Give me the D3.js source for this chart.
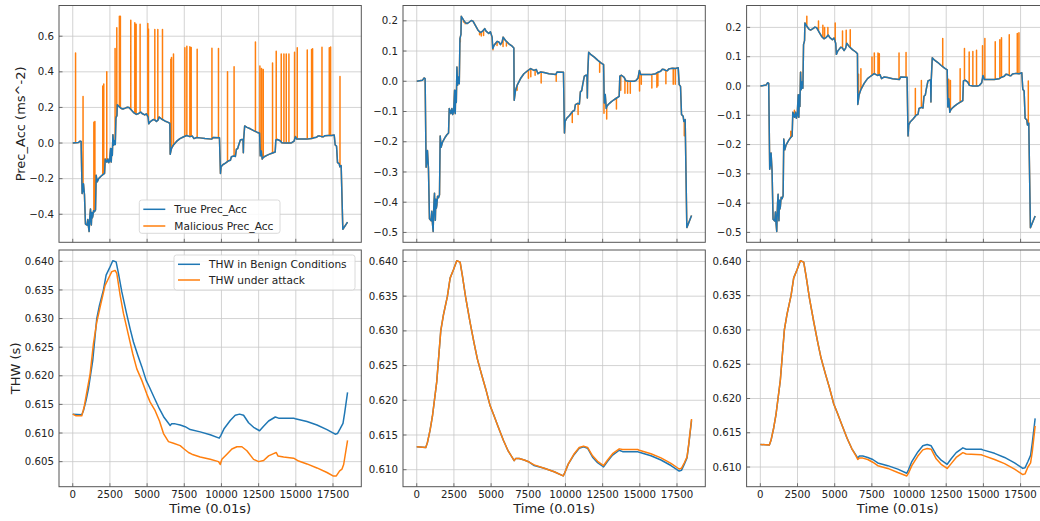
<!DOCTYPE html>
<html><head><meta charset="utf-8">
<script src="https://cdn.jsdelivr.net/npm/d3@7"></script>
<style>
body{margin:0;background:#fff}
svg{display:block}
text{font-family:"DejaVu Sans",sans-serif;fill:#222}
</style>
</head><body><svg id="c" width="1040" height="521"></svg>
<script>
// ---------- DATA ----------
const xTicks = [0, 2500, 5000, 7500, 10000, 12500, 15000, 17500];
const yTicksAcc1 = [-0.4, -0.2, 0.0, 0.2, 0.4, 0.6];
const yTicksAcc23 = [-0.5, -0.4, -0.3, -0.2, -0.1, 0.0, 0.1, 0.2];
const yTicksThw1 = [0.605, 0.610, 0.615, 0.620, 0.625, 0.630, 0.635, 0.640];
const yTicksThw23 = [0.610, 0.615, 0.620, 0.625, 0.630, 0.635, 0.640];

// True preceding-vehicle acceleration [time, value]
const trueAcc = [
[0,0.000],[383,0.003],[495,0.011],[563,0.009],[631,-0.284],[690,-0.26],[721,-0.229],[788,-0.289],
[856,-0.455],[968,-0.461],[1013,-0.43],[1058,-0.47],[1103,-0.497],[1130,-0.44],[1160,-0.40],[1194,-0.37],
[1220,-0.43],[1250,-0.46],[1285,-0.39],[1320,-0.42],[1351,-0.41],[1400,-0.38],[1464,-0.385],[1531,-0.375],
[1576,-0.181],[1644,-0.218],[1734,-0.201],[1914,-0.185],[2027,-0.177],[2139,-0.171],[2184,-0.090],[2297,-0.107],
[2365,-0.090],[2420,-0.11],[2477,-0.101],[2545,-0.030],[2560,-0.09],[2590,-0.107],[2610,-0.05],[2635,-0.030],
[2660,-0.07],[2702,0.047],[2747,-0.013],[2815,0.014],[2860,-0.008],[2905,0.141],[2973,0.155],[2995,0.215],
[3153,0.202],[3265,0.194],[3378,0.191],[3536,0.196],[3671,0.201],[3783,0.199],[3941,0.185],[4121,0.169],
[4279,0.161],[4436,0.166],[4572,0.174],[4662,0.166],[4842,0.158],[4954,0.164],[5067,0.146],[5112,0.108],
[5202,0.119],[5292,0.125],[5405,0.132],[5517,0.130],[5630,0.121],[5743,0.130],[5810,0.146],[5968,0.135],
[6193,0.124],[6418,0.116],[6531,0.110],[6553,-0.063],[6643,-0.030],[6756,-0.013],[6981,0.009],[7206,0.025],
[7432,0.034],[7657,0.042],[7882,0.036],[8040,0.039],[8152,0.025],[8332,0.031],[8558,0.029],[8895,0.025],
[9346,0.022],[9442,0.031],[9866,0.030],[9933,-0.171],[9978,-0.133],[10089,-0.122],[10268,-0.113],[10491,-0.099],
[10602,-0.097],[10669,-0.077],[10825,-0.073],[10937,-0.075],[11004,-0.035],[11093,-0.031],[11160,-0.011],[11271,0.017],
[11383,0.020],[11450,0.020],[11472,-0.055],[11494,0.022],[11561,0.096],[11717,0.088],[11940,0.080],[12163,0.070],
[12386,0.061],[12565,0.055],[12609,-0.072],[12676,-0.044],[12743,-0.090],[12788,-0.083],[12877,-0.077],[13055,-0.069],
[13234,-0.062],[13390,-0.057],[13613,-0.050],[13657,0.017],[13769,0.020],[13947,0.013],[14059,0.002],[14282,0.000],
[14616,0.000],[14728,0.002],[14884,0.011],[14973,0.036],[15062,0.022],[15285,0.022],[15731,0.022],[16066,0.025],
[16222,0.030],[16400,0.033],[16512,0.040],[16623,0.039],[16735,0.036],[16846,0.035],[16958,0.041],[17181,0.043],
[17404,0.042],[17582,0.045],[17649,-0.011],[17738,-0.017],[17805,-0.110],[17917,-0.116],[17961,-0.133],[18050,-0.127],
[18162,-0.484],[18480,-0.444]
];

// Malicious acceleration spikes [time, value reached]
const spikes1 = [
[190,0.505],[693,0.261],[1420,0.117],[1490,0.121],[2019,0.320],[2086,0.332],[2288,0.400],[2847,0.531],
[2962,0.647],[3137,0.712],[3204,0.712],[3903,0.690],[4173,0.675],[4263,0.667],[4530,0.667],[5048,0.671],
[5093,0.640],[5519,0.637],[5721,0.637],[6035,0.637],[6596,0.470],[6641,0.481],[6775,0.500],[7539,0.535],
[7673,0.544],[7875,0.541],[7965,0.537],[8367,0.527],[9360,0.533],[9800,0.531],[10408,0.400],[10850,0.428],
[12285,0.567],[12585,0.432],[12697,0.418],[12809,0.413],[13436,0.450],[13683,0.516],[14020,0.500],[14200,0.500],
[14357,0.500],[14537,0.500],[14916,0.510],[15097,0.535],[15770,0.523],[16061,0.525],[16128,0.529],[16760,0.538],
[17251,0.535],[17340,0.540],[17971,0.374]
];
const spikes2 = [
[2930,0.130],[3146,0.196],[3258,0.190],[4224,0.154],[4340,0.150],[4494,0.151],[5128,0.104],[5400,0.118],
[5803,0.115],[6030,0.117],[6748,-0.030],[7510,0.010],[7670,0.015],[7960,0.020],[8367,-0.006],[9379,0.000],
[10459,-0.136],[10850,-0.110],[12300,0.030],[12591,-0.106],[12773,-0.125],[13428,-0.092],[13718,-0.030],[14000,-0.040],
[14180,-0.040],[14360,-0.040],[14980,-0.032],[15100,-0.010],[15810,-0.022],[16147,-0.020],[16215,-0.015],[16754,-0.008],
[17248,-0.010],[17383,-0.010],[17990,-0.180]
];
const spikes3 = [
[2048,-0.155],[2291,-0.083],[2722,0.048],[3126,0.238],[3910,0.222],[4204,0.207],[4320,0.200],[4541,0.200],
[5034,0.215],[5526,0.188],[5773,0.190],[6045,0.192],[6605,0.040],[6762,0.059],[7507,0.099],[7664,0.113],
[7911,0.113],[8000,0.110],[9326,0.113],[9798,0.114],[10424,-0.009],[10829,0.019],[12264,0.162],[12668,0.023],
[12781,0.019],[13436,0.059],[13726,0.128],[14043,0.116],[14290,0.118],[14537,0.122],[14941,0.137],[15098,0.162],
[15795,0.151],[16105,0.158],[16217,0.165],[16739,0.175],[17278,0.179],[17390,0.182],[18019,0.017]
];

// Time headway [time, value]
const thwBenign = [
[0,0.6133],[606,0.6132],[718,0.6139],[897,0.6157],[1055,0.6177],[1346,0.6227],[1615,0.6300],[1795,0.6323],
[2064,0.6350],[2244,0.6376],[2468,0.6388],[2692,0.6401],[2917,0.6399],[3074,0.6379],[3298,0.6347],[3590,0.6312],
[3859,0.6282],[4083,0.6259],[4375,0.6236],[4644,0.6216],[4936,0.6192],[5160,0.6180],[5474,0.6162],[5833,0.6142],
[6147,0.6127],[6439,0.6117],[6551,0.6113],[6650,0.6116],[6888,0.6116],[7224,0.6114],[7561,0.6111],[7897,0.6106],
[8570,0.6102],[9244,0.6097],[9849,0.6091],[9962,0.6096],[10186,0.6108],[10590,0.6122],[10926,0.6131],[11218,0.6133],
[11487,0.6131],[11824,0.6118],[12160,0.6110],[12564,0.6104],[12833,0.6112],[13170,0.6121],[13619,0.6128],[13843,0.6126],
[14853,0.6126],[14965,0.6125],[15750,0.6120],[16423,0.6114],[17096,0.6106],[17650,0.6098],[17800,0.6099],[17994,0.6108],
[18173,0.6117],[18285,0.6135],[18480,0.6171]
];
const thwAttack1 = [
[0,0.6133],[224,0.6130],[606,0.6130],[763,0.6145],[942,0.6171],[1167,0.6203],[1391,0.6256],[1615,0.6294],
[1840,0.6320],[2176,0.6358],[2401,0.6370],[2625,0.6382],[2849,0.6384],[2962,0.6379],[3186,0.6341],[3410,0.6309],
[3747,0.6271],[4039,0.6238],[4308,0.6212],[4644,0.6192],[4981,0.6168],[5205,0.6154],[5542,0.6139],[5833,0.6121],
[6103,0.6099],[6439,0.6085],[6776,0.6082],[7224,0.6078],[7449,0.6073],[7785,0.6066],[8010,0.6063],[8570,0.6058],
[9244,0.6054],[9805,0.6050],[9917,0.6045],[10029,0.6054],[10366,0.6063],[10702,0.6072],[11039,0.6076],[11375,0.6076],
[11711,0.6069],[12160,0.6054],[12497,0.6050],[12833,0.6052],[13170,0.6060],[13506,0.6064],[13686,0.6066],[13798,0.6060],
[14179,0.6058],[14853,0.6056],[15190,0.6051],[15750,0.6046],[16423,0.6039],[17096,0.6031],[17500,0.6025],[17724,0.6025],
[17949,0.6034],[18106,0.6037],[18218,0.6045],[18480,0.6087]
];
const thwAttack2 = [
[0,0.6133],[606,0.6132],[718,0.6139],[897,0.6157],[1055,0.6177],[1346,0.6227],[1615,0.6300],[1795,0.6323],
[2064,0.6350],[2244,0.6376],[2468,0.6388],[2692,0.6401],[2917,0.6399],[3074,0.6379],[3298,0.6347],[3590,0.6312],
[3859,0.6282],[4083,0.6259],[4375,0.6236],[4644,0.6216],[4936,0.6192],[5160,0.6180],[5474,0.6162],[5833,0.6142],
[6147,0.6127],[6439,0.6117],[6551,0.6113],[6650,0.6116],[6888,0.6116],[7224,0.6114],[7561,0.6111],[7897,0.6107],
[8570,0.6102],[9244,0.6097],[9849,0.6091],[9962,0.6096],[10186,0.6108],[10590,0.6123],[10926,0.6132],[11218,0.6134],
[11487,0.6132],[11824,0.6120],[12160,0.6112],[12564,0.6106],[12833,0.6114],[13170,0.6123],[13619,0.6130],[13843,0.6129],
[14853,0.6129],[14965,0.6128],[15750,0.6123],[16423,0.6117],[17096,0.6109],[17650,0.6101],[17800,0.6102],[17994,0.6110],
[18173,0.6118],[18285,0.6136],[18480,0.6173]
];
const thwAttack3 = [
[0,0.6133],[606,0.6132],[718,0.6139],[897,0.6157],[1055,0.6177],[1346,0.6227],[1615,0.6300],[1795,0.6323],
[2064,0.6350],[2244,0.6376],[2468,0.6388],[2692,0.6401],[2917,0.6399],[3074,0.6379],[3298,0.6347],[3590,0.6312],
[3859,0.6282],[4083,0.6259],[4375,0.6236],[4644,0.6216],[4936,0.6192],[5160,0.6180],[5474,0.6162],[5833,0.6142],
[6147,0.6127],[6439,0.6116],[6551,0.6111],[6650,0.6113],[6888,0.6113],[7224,0.6111],[7561,0.6107],[7897,0.6102],
[8570,0.6098],[9244,0.6092],[9849,0.6087],[9962,0.6091],[10186,0.6102],[10590,0.6116],[10926,0.6125],[11218,0.6127],
[11487,0.6126],[11824,0.6112],[12160,0.6104],[12564,0.6098],[12833,0.6105],[13170,0.6114],[13619,0.6121],[13843,0.6119],
[14853,0.6118],[14965,0.6117],[15750,0.6111],[16423,0.6105],[17096,0.6097],[17650,0.6089],[17800,0.6090],[17994,0.6100],
[18173,0.6106],[18285,0.6122],[18480,0.6160]
];

// ---------- RENDER ----------
const BLUE = "#1f77b4", ORANGE = "#ff7f0e";
const svg = d3.select("#c");
const colLeft = [59, 403, 746.6], panelW = 302.3;
const rowTop = [5.5, 250], panelH = [236.8, 236.7];

// malicious series = true series with the attack spikes inserted
const bis = d3.bisector(d => d[0]).left;
function baseAt(t){
  const i = Math.max(1, Math.min(trueAcc.length - 1, bis(trueAcc, t)));
  const a = trueAcc[i-1], b = trueAcc[i];
  const k = (t - a[0]) / (b[0] - a[0]);
  return a[1] + k * (b[1] - a[1]);
}
function withSpikes(spikes){
  const out = [];
  let j = 0;
  trueAcc.forEach(p => {
    while (j < spikes.length && spikes[j][0] <= p[0]) {
      const s = spikes[j], b = baseAt(s[0]);
      out.push([s[0], b], [s[0], s[1]], [s[0], b]);
      j++;
    }
    out.push(p);
  });
  return out;
}

function extentPad(arrs){
  const all = arrs.flat();
  const lo = d3.min(all, d => d[1]), hi = d3.max(all, d => d[1]);
  const m = (hi - lo) * 0.05;
  return [lo - m, hi + m];
}
const xAll = trueAcc.concat(thwBenign);
const x0 = d3.min(xAll, d => d[0]), x1 = d3.max(xAll, d => d[0]);
const xDom = [x0 - (x1 - x0) * 0.05, x1 + (x1 - x0) * 0.05];

let clipId = 0;
function panel(opt){
  const L = colLeft[opt.col], T = rowTop[opt.row], H = panelH[opt.row];
  const g = svg.append("g").attr("transform", `translate(${L},${T})`);
  const x = d3.scaleLinear().domain(xDom).range([0, panelW]);
  const y = d3.scaleLinear().domain(extentPad(opt.series.map(s => s.data))).range([H, 0]);
  const cid = "clip" + (clipId++);
  g.append("clipPath").attr("id", cid).append("rect").attr("width", panelW).attr("height", H);
  // grid
  const grid = g.append("g").attr("stroke", "#c8c8c8").attr("stroke-width", 0.8);
  xTicks.forEach(t => grid.append("line").attr("x1", x(t)).attr("x2", x(t)).attr("y1", 0).attr("y2", H));
  opt.yTicks.forEach(t => grid.append("line").attr("x1", 0).attr("x2", panelW).attr("y1", y(t)).attr("y2", y(t)));
  // lines
  const line = d3.line().x(d => x(d[0])).y(d => y(d[1]));
  const lg = g.append("g").attr("clip-path", `url(#${cid})`);
  opt.series.forEach(s => lg.append("path").attr("d", line(s.data)).attr("fill", "none")
    .attr("stroke", s.color).attr("stroke-width", 1.5).attr("stroke-linejoin", "round"));
  // spines
  g.append("rect").attr("width", panelW).attr("height", H).attr("fill", "none").attr("stroke", "#555").attr("stroke-width", 1);
  // inward ticks
  const tk = g.append("g").attr("stroke", "#555").attr("stroke-width", 0.8);
  xTicks.forEach(t => tk.append("line").attr("x1", x(t)).attr("x2", x(t)).attr("y1", H).attr("y2", H - 3.5));
  opt.yTicks.forEach(t => tk.append("line").attr("x1", 0).attr("x2", 3.5).attr("y1", y(t)).attr("y2", y(t)));
  // tick labels
  const fy = d3.format(opt.yFmt);
  opt.yTicks.forEach(t => g.append("text").attr("x", -5).attr("y", y(t)).attr("dy", "0.35em")
    .attr("text-anchor", "end").attr("font-size", 10.2).text(fy(t)));
  if (opt.xLabels) {
    xTicks.forEach(t => g.append("text").attr("x", x(t)).attr("y", H + 11).attr("text-anchor", "middle")
      .attr("font-size", 10.2).text(d3.format("d")(t)));
    g.append("text").attr("x", panelW / 2).attr("y", H + 26).attr("text-anchor", "middle")
      .attr("font-size", 13).text("Time (0.01s)");
  }
  if (opt.ylabel) {
    g.append("text").attr("transform", `translate(${opt.ylabelX - L},${H / 2}) rotate(-90)`)
      .attr("text-anchor", "middle").attr("dy", "0.35em").attr("font-size", 13).text(opt.ylabel);
  }
  if (opt.legend) {
    const lgd = opt.legend;
    const bg = g.append("g").attr("transform", `translate(${lgd.x},${lgd.y})`);
    bg.append("rect").attr("width", lgd.w).attr("height", lgd.h).attr("rx", 2.5)
      .attr("fill", "#fff").attr("fill-opacity", 0.85).attr("stroke", "#d0d0d0").attr("stroke-width", 0.8);
    lgd.items.forEach((it, i) => {
      const cy = lgd.row0 + i * lgd.dy;
      bg.append("line").attr("x1", 4).attr("x2", 26).attr("y1", cy).attr("y2", cy)
        .attr("stroke", it.color).attr("stroke-width", 1.5);
      bg.append("text").attr("x", 35).attr("y", cy).attr("dy", "0.35em").attr("font-size", 10.6).text(it.label);
    });
  }
}

const accSeries = [spikes1, spikes2, spikes3];
const thwAttacks = [thwAttack1, thwAttack2, thwAttack3];
for (let c = 0; c < 3; c++) {
  panel({
    col: c, row: 0, xLabels: false,
    series: [{data: withSpikes(accSeries[c]), color: ORANGE}, {data: trueAcc, color: BLUE}],
    yTicks: c === 0 ? yTicksAcc1 : yTicksAcc23, yFmt: ".1f",
    ylabel: c === 0 ? "Prec_Acc (ms^-2)" : null, ylabelX: 20,
    legend: c === 0 ? {x: 80.3, y: 194.5, w: 140.7, h: 33.3, row0: 9.3, dy: 16.7,
      items: [{label: "True Prec_Acc", color: BLUE}, {label: "Malicious Prec_Acc", color: ORANGE}]} : null
  });
  panel({
    col: c, row: 1, xLabels: true,
    series: [{data: thwBenign, color: BLUE}, {data: thwAttacks[c], color: ORANGE}],
    yTicks: c === 0 ? yTicksThw1 : yTicksThw23, yFmt: ".3f",
    ylabel: c === 0 ? "THW (s)" : null, ylabelX: 15,
    legend: c === 0 ? {x: 115, y: 5, w: 181, h: 35, row0: 9.3, dy: 15.7,
      items: [{label: "THW in Benign Conditions", color: BLUE}, {label: "THW under attack", color: ORANGE}]} : null
  });
}
</script>
</body></html>
